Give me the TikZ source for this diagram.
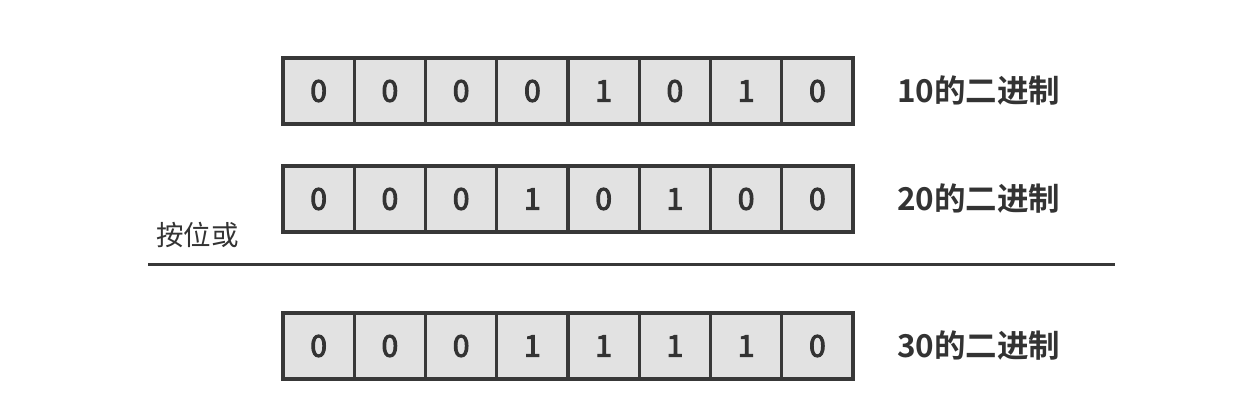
\documentclass[tikz,border=0pt]{standalone}
\usepackage{fontspec}
\newfontfamily\cjk{Noto Sans CJK SC}
\newfontfamily\cjkd[FakeBold=3.5]{Noto Sans CJK SC}
\newfontfamily\cjkb{Noto Sans CJK SC Bold}
\definecolor{cellfill}{HTML}{E2E2E2}
\definecolor{edge}{HTML}{383838}
\definecolor{txt}{HTML}{333333}
\tikzset{
  bitcell/.style={draw=edge, line width=3.2pt, fill=cellfill, minimum width=71.25pt, minimum height=66pt, inner sep=0pt, text=txt, font=\cjkd\fontsize{30}{30}\selectfont},
  rowlabel/.style={anchor=west, inner sep=0pt, text=txt, font=\cjkb\fontsize{31.5}{31.5}\selectfont},
  oplabel/.style={anchor=west, inner sep=0pt, text=txt, font=\cjk\fontsize{27.5}{27.5}\selectfont}
}
\begin{document}
\begin{tikzpicture}[x=1pt,y=1pt]
\useasboundingbox (0,0) rectangle (1260,412);
\fill[white] (0,0) rectangle (1260,412);
% rows
\foreach \r/\yy/\bits/\lab in {a/321/{0,0,0,0,1,0,1,0}/10的二进制, b/213/{0,0,0,1,0,1,0,0}/20的二进制, c/66/{0,0,0,1,1,1,1,0}/30的二进制}{
  \foreach \b [count=\i] in \bits {
    \node[bitcell] (\r\i) at ({283+71.25*(\i-0.5)},\yy) {\b};
  }
  \node[rowlabel] (\r lab) at (897,\yy) {\lab};
}
\node[oplabel] (op) at (156,177) {按位或};
\coordinate (l1) at (148,147);
\coordinate (l2) at (1115,147);
\draw[edge, line width=3pt] (l1) -- (l2);
\end{tikzpicture}
\end{document}
